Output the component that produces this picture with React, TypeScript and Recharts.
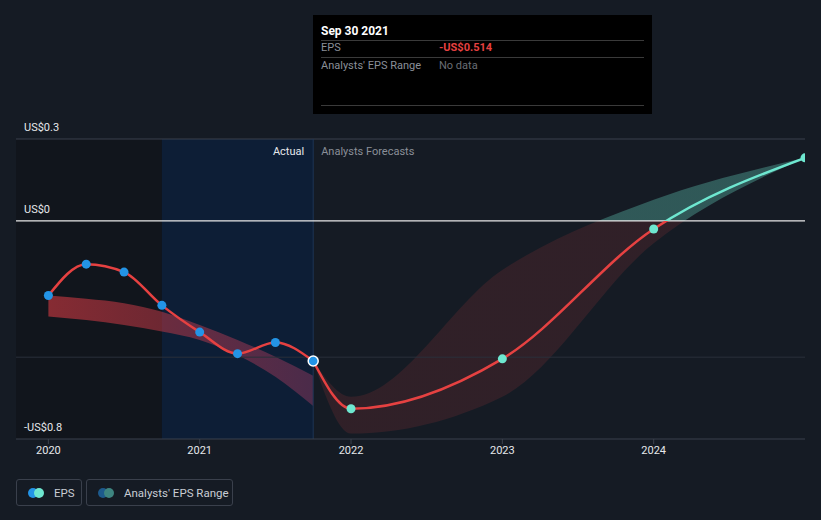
import React from 'react';
import {
  ComposedChart, Line, Area, XAxis, YAxis, ReferenceArea, ReferenceLine,
} from 'recharts';

// actual quarterly EPS
const actualDates = [2020.0, 2020.25, 2020.5, 2020.75, 2021.0, 2021.25, 2021.5, 2021.75];
const actualEps = [-0.274, -0.159, -0.188, -0.31, -0.408, -0.487, -0.446, -0.514];
const pastRangeLow = [-0.351, -0.364, -0.382, -0.406, -0.437, -0.492, -0.572, -0.679];
const pastRangeHigh = [-0.274, -0.286, -0.302, -0.333, -0.382, -0.437, -0.498, -0.568];

// analysts forecasts
const forecastDates = [2021.75, 2022, 2023, 2024, 2025];
const forecastEps = [-0.514, -0.689, -0.506, -0.03, 0.231];
const forecastLow = [-0.514, -0.78, -0.645, -0.082, 0.231];
const forecastHigh = [-0.514, -0.645, -0.18, 0.077, 0.231];

const yearTicks = [2020, 2021, 2022, 2023, 2024];
const valueTicks = [0.3, 0, -0.8];

const W = 821;
const H = 520;
const TOP = 139;
const BOTTOM = 439;
const zeroOffset = 0.3 / 1.1;

const RED = '#e64141';
const TEAL = '#6ee7d0';
const BLUE = '#2394e6';
const FONT = 'Roboto, sans-serif';

type Row = { x: number; eps?: number; fc?: number; past?: number[]; range?: number[] };

const rows: Row[] = [];
actualDates.forEach((x, i) => {
  rows.push({ x, eps: actualEps[i], past: [pastRangeLow[i], pastRangeHigh[i]] });
});
forecastDates.forEach((x, i) => {
  const r = rows.find((d) => d.x === x);
  const v = { fc: forecastEps[i], range: [forecastLow[i], forecastHigh[i]] };
  if (r) Object.assign(r, v);
  else rows.push({ x, ...v });
});

const fmtMoney = (v: number) => (v < 0 ? `-US$${Math.abs(v)}` : `US$${v}`);

const ValueLabel = (props: any) => {
  const vb = props.viewBox || {};
  return (
    <text x={vb.x + 8} y={vb.y - 8} fill="#e6e8eb" fontSize={11} fontFamily={FONT}>
      {props.text}
    </text>
  );
};

const SplitLabel = (props: any) => {
  const vb = props.viewBox || {};
  return (
    <g fontFamily={FONT} fontSize={11}>
      <text x={vb.x - 9} y={vb.y + 16} textAnchor="end" fill="#e6e8eb">Actual</text>
      <text x={vb.x + 8} y={vb.y + 16} fill="#8a8f98">Analysts Forecasts</text>
    </g>
  );
};

const ActualDot = (props: any) => {
  const { cx, cy, index } = props;
  if (cx == null || cy == null) return null;
  const last = index === actualDates.length - 1;
  return (
    <circle key={`a${index}`} cx={cx} cy={cy} r={last ? 5 : 4.5} fill={BLUE}
      stroke={last ? '#ffffff' : 'none'} strokeWidth={last ? 1.5 : 0} />
  );
};

const ForecastDot = (props: any) => {
  const { cx, cy, payload, index } = props;
  if (cx == null || cy == null || payload.eps != null) return <g key={`f${index}`} />;
  return <circle key={`f${index}`} cx={cx} cy={cy} r={4.5} fill={TEAL} />;
};

const LegendIcon = ({ a, b }: { a: string; b: string }) => (
  <span style={{ position: 'relative', width: 17, height: 10, display: 'inline-block', flexShrink: 0 }}>
    <span style={{ position: 'absolute', left: 0, top: 0, width: 10, height: 10, borderRadius: 5, background: a }} />
    <span style={{ position: 'absolute', left: 6, top: 0, width: 10, height: 10, borderRadius: 5, background: b }} />
  </span>
);

export default function App() {
  const boxStyle: React.CSSProperties = {
    position: 'absolute', top: 479, height: 27, border: '1px solid #3a404c', borderRadius: 3,
    display: 'flex', alignItems: 'center', gap: 9, paddingLeft: 11, boxSizing: 'border-box',
    color: '#c9cdd4', fontSize: 11.5, fontFamily: FONT, whiteSpace: 'nowrap',
  };
  const rowLine: React.CSSProperties = { borderBottom: '1px solid #3a3a3a' };
  return (
    <div style={{ position: 'absolute', left: 0, top: 0, width: W, height: H, background: '#151b24', overflow: 'hidden' }}>
      <ComposedChart width={W} height={H} data={rows} margin={{ top: TOP, right: 16, bottom: 51, left: 16 }}>
        <defs>
          <linearGradient id="lineSplit" gradientUnits="userSpaceOnUse" x1="0" y1={TOP} x2="0" y2={BOTTOM}>
            <stop offset={zeroOffset} stopColor={TEAL} />
            <stop offset={zeroOffset} stopColor={RED} />
          </linearGradient>
          <linearGradient id="rangeSplit" gradientUnits="userSpaceOnUse" x1="0" y1={TOP} x2="0" y2={BOTTOM}>
            <stop offset={zeroOffset} stopColor={TEAL} stopOpacity={0.3} />
            <stop offset={zeroOffset} stopColor={RED} stopOpacity={0.13} />
          </linearGradient>
          <linearGradient id="pastFill" x1="0" y1="0" x2="1" y2="0">
            <stop offset="0" stopColor="#d43a42" stopOpacity={0.6} />
            <stop offset="0.45" stopColor="#c83a48" stopOpacity={0.5} />
            <stop offset="1" stopColor="#b0406a" stopOpacity={0.38} />
          </linearGradient>
        </defs>
        <XAxis dataKey="x" type="number" domain={[2019.786, 2025]} ticks={yearTicks} allowDataOverflow
          height={30} axisLine={{ stroke: '#3a404c' }} tickLine={{ stroke: '#3a404c' }} tickSize={5}
          tick={{ fill: '#e6e8eb', fontSize: 11, fontFamily: FONT }} tickFormatter={(v) => String(v)} />
        <YAxis type="number" domain={[-0.8, 0.3]} ticks={valueTicks} hide allowDataOverflow />
        <ReferenceArea x1={2019.786} x2={2020.75} y1={-0.8} y2={0.3} fill="#11151c" fillOpacity={1} stroke="none" />
        <ReferenceArea x1={2020.75} x2={2021.75} y1={-0.8} y2={0.3} fill="#0d1e36" fillOpacity={1} stroke="none" />
        <ReferenceLine y={valueTicks[0]} stroke="#3a404c" label={<ValueLabel text={fmtMoney(valueTicks[0])} />} />
        <ReferenceLine y={valueTicks[2]} stroke="none" label={<ValueLabel text={fmtMoney(valueTicks[2])} />} />
        <ReferenceLine y={-0.5} stroke="#2a303b" />
        <ReferenceLine x={2021.75} stroke="#1d3556" label={<SplitLabel />} />
        <Area dataKey="past" type="monotone" fill="url(#pastFill)" fillOpacity={1} stroke="none" isAnimationActive={false} />
        <Area dataKey="range" type="monotone" fill="url(#rangeSplit)" fillOpacity={1} stroke="none" isAnimationActive={false} />
        <ReferenceLine y={valueTicks[1]} stroke="#e8e8e8" strokeWidth={1.2} label={<ValueLabel text={fmtMoney(valueTicks[1])} />} />
        <Line dataKey="fc" type="monotone" stroke="url(#lineSplit)" strokeWidth={2.5} dot={<ForecastDot />}
          activeDot={false} isAnimationActive={false} />
        <Line dataKey="eps" type="monotone" stroke={RED} strokeWidth={2.5} dot={<ActualDot />}
          activeDot={false} isAnimationActive={false} />
      </ComposedChart>

      <div style={{ position: 'absolute', left: 313, top: 15, width: 339, height: 99, background: '#000', fontFamily: FONT, fontSize: 11 }}>
        <div style={{ position: 'absolute', left: 8, right: 8, top: 9, height: 16, color: '#fff', fontWeight: 700, fontSize: 12, ...rowLine }}>Sep 30 2021</div>
        <div style={{ position: 'absolute', left: 8, right: 8, top: 25, height: 17, lineHeight: '16px', color: '#8a8f98', ...rowLine }}>
          EPS
          <span style={{ position: 'absolute', left: 118, color: RED, fontWeight: 700 }}>-US$0.514</span>
        </div>
        <div style={{ position: 'absolute', left: 8, right: 8, top: 43, height: 16, lineHeight: '16px', color: '#8a8f98' }}>
          Analysts' EPS Range
          <span style={{ position: 'absolute', left: 118, color: '#6a6e75' }}>No data</span>
        </div>
        <div style={{ position: 'absolute', left: 8, right: 8, top: 90, ...rowLine }} />
      </div>

      <div style={{ ...boxStyle, left: 16, width: 66 }}>
        <LegendIcon a={BLUE} b={TEAL} />
        <span>EPS</span>
      </div>
      <div style={{ ...boxStyle, left: 86, width: 147 }}>
        <LegendIcon a="#1d5a8c" b="#3e8580" />
        <span>Analysts' EPS Range</span>
      </div>
    </div>
  );
}
